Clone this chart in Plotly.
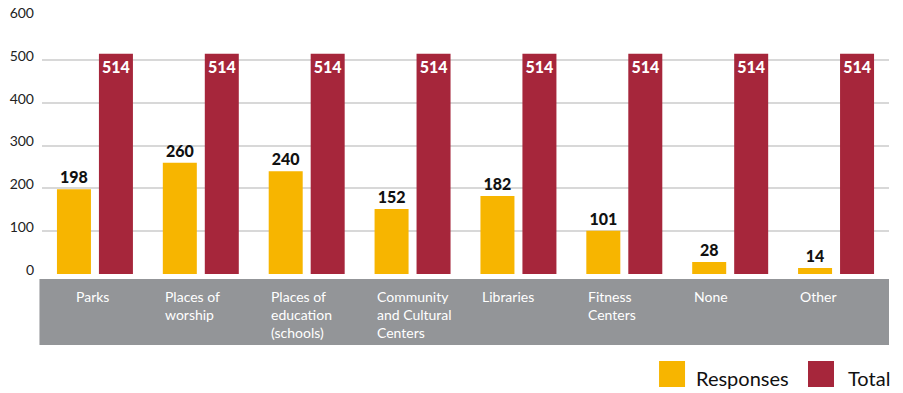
import plotly.graph_objects as go

# Survey data: community places mentioned, out of all respondents
categories = [
    "Parks",
    "Places of<br>worship",
    "Places of<br>education<br>(schools)",
    "Community<br>and Cultural<br>Centers",
    "Libraries",
    "Fitness<br>Centers",
    "None",
    "Other",
]
responses = [198, 260, 240, 152, 182, 101, 28, 14]
totals = [514, 514, 514, 514, 514, 514, 514, 514]
y_ticks = [0, 100, 200, 300, 400, 500, 600]

YELLOW = "#F7B500"
RED = "#A6263B"
BAND = "#939598"
FONT = "Lato"

fig = go.Figure()

fig.add_trace(go.Bar(
    x=categories, y=responses, name="Responses",
    marker=dict(color=YELLOW, line=dict(width=0)),
    text=responses, textposition="outside", cliponaxis=False,
    textfont=dict(family=FONT, size=16, color="#111111", weight=900),
    constraintext="none", textangle=0,
))
fig.add_trace(go.Bar(
    x=categories, y=totals, name="Total",
    marker=dict(color=RED, line=dict(width=0)),
    text=totals, textposition="inside", insidetextanchor="end",
    textfont=dict(family=FONT, size=16, color="white", weight=900),
    constraintext="none", textangle=0,
))

# Grey band carrying the category names under the axis
shapes = [dict(type="rect", xref="paper", yref="paper",
               x0=-0.003, x1=1.0, y0=-0.0195, y1=-0.276,
               fillcolor=BAND, line=dict(width=0), layer="below")]

annotations = []
for i, cat in enumerate(categories):
    shift = -21 if i == 0 else -38
    annotations.append(dict(
        x=cat, xref="x", y=-0.048, yref="paper",
        text=cat, showarrow=False, xanchor="left", yanchor="top",
        xshift=shift, align="left",
        font=dict(family=FONT, size=14, color="white"),
    ))

# Legend drawn as large swatches with labels at the bottom right
legend_items = [("Responses", YELLOW, 0.7285, 0.7698), ("Total", RED, 0.9044, 0.9492)]
for label, color, sx, tx in legend_items:
    shapes.append(dict(type="rect", xref="paper", yref="paper",
                       x0=sx, x1=sx + 0.0307, y0=-0.3385, y1=-0.4397,
                       fillcolor=color, line=dict(width=0)))
    annotations.append(dict(
        x=tx, xref="paper", y=-0.405, yref="paper", text=label,
        showarrow=False, xanchor="left", yanchor="middle",
        font=dict(family=FONT, size=20, color="#111111"),
    ))

fig.update_layout(
    width=903, height=393,
    margin=dict(l=42, r=14, t=17, b=119, autoexpand=False),
    paper_bgcolor="white", plot_bgcolor="white",
    barmode="group", bargap=0.207, bargroupgap=0.19,
    showlegend=False,
    shapes=shapes, annotations=annotations,
    xaxis=dict(showticklabels=False, showgrid=False, zeroline=False,
               showline=False, ticks="", automargin=False),
    yaxis=dict(range=[0, 600], tickvals=y_ticks, showgrid=True,
               gridcolor="#d8d8d8", gridwidth=1.5,
               zeroline=True, zerolinecolor="white", zerolinewidth=2,
               showline=False, ticks="", ticklabelstandoff=7,
               ticklabelshift=-4, automargin=False,
               tickfont=dict(family=FONT, size=14, color="#222222")),
)

fig.write_html("out.html")
